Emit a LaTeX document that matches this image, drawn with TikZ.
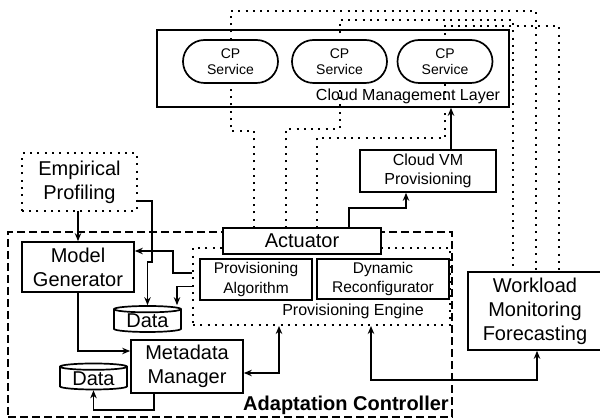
\documentclass[tikz,border=0pt]{standalone}
\usepackage{fontspec}
\setmainfont{Liberation Sans}
\usetikzlibrary{arrows.meta,shapes.misc,shapes.geometric}

\tikzset{
  box/.style={draw, line width=1.7pt, fill=white, align=center, inner sep=0pt},
  bigtext/.style={font=\fontsize{20}{24}\selectfont},
  midtext/.style={font=\fontsize{16}{19}\selectfont},
  smalltext/.style={font=\fontsize{15.5}{19.5}\selectfont},
  dots/.style={line width=2pt, dash pattern=on 2pt off 5.3pt},
  dashes/.style={line width=1.7pt, dash pattern=on 8pt off 4pt},
  arr/.style={line width=1.7pt, -{Stealth[length=8pt,width=6.5pt]}},
  dblarr/.style={line width=1.7pt, {Stealth[length=8pt,width=6.5pt]}-{Stealth[length=8pt,width=6.5pt]}},
  cpservice/.style={draw, line width=1.7pt, fill=white, rounded rectangle,
    minimum width=95pt, minimum height=43pt, inner sep=0pt, align=center,
    font=\fontsize{14}{16}\selectfont},
  datastore/.style={draw, line width=1.7pt, fill=white, cylinder, shape border rotate=90,
    aspect=0.15, minimum width=67pt, minimum height=26pt, inner sep=0pt, bigtext}
}

\begin{document}
\begin{tikzpicture}[x=1pt,y=-1pt]
    \useasboundingbox (0,0) rectangle (600,419);

    % cloud side
    \node [box, fill=none, minimum width=352pt, minimum height=77pt] (cml) at (333,68.5) {};
    \node [midtext] (cmllabel) at (408,96) {Cloud Management Layer};

    % adaptation controller and provisioning engine
    \node [draw, dashes, minimum width=444pt, minimum height=185pt] (ac) at (230,324.5) {};
    \node [font=\bfseries\fontsize{20}{24}\selectfont] (aclabel) at (346,405) {Adaptation Controller};
    \node [draw, dots, minimum width=257pt, minimum height=77pt] (pe) at (321.5,286.5) {};
    \node [midtext] (pelabel) at (353,311) {Provisioning Engine};

    % boxes
    \node [box, draw=none, minimum width=113pt, minimum height=56pt, bigtext] (emp) at (79.5,182) {Empirical\\Profiling};
    \draw [dots] (emp.south west) rectangle (emp.north east);
    \node [box, minimum width=112pt, minimum height=50pt, bigtext] (mg) at (78,267) {Model\\Generator};
    \node [box, minimum width=112pt, minimum height=53pt, bigtext] (mm) at (187,366.5) {Metadata\\Manager};
    \node [box, minimum width=112pt, minimum height=41pt, smalltext] (pa) at (256,279.5) {Provisioning\\Algorithm};
    \node [box, minimum width=132pt, minimum height=40pt, smalltext] (dr) at (383,279) {Dynamic\\Reconfigurator};
    \node [box, minimum width=136pt, minimum height=42pt, midtext] (cvm) at (428,171) {Cloud VM\\Provisioning};
    \node [box, minimum width=134pt, minimum height=78pt, bigtext] (wl) at (535,311) {Workload\\Monitoring\\Forecasting};
    \node [datastore] (data1) at (147.5,321) {Data};
    \node [datastore] (data2) at (93.5,378.5) {Data};

    % dotted links actuator -- services -- workload
    \draw [dots] (254,228) -- (254,131) -| (230.5,61.5) -- (230.5,11) -| ([xshift=1pt]wl.north);
    \draw [dots] (286,228) -- (286,129) -| (339.5,61.5) -- (339.5,20) -| ([xshift=-22pt]wl.north);
    \draw [dots] (317,228) -- (317,138) -| (445,61.5) -- (445,26) -| ([xshift=24pt]wl.north);

    \node [cpservice] (cp1) at (230.5,61.5) {CP\\Service};
    \node [cpservice] (cp2) at (339.5,61.5) {CP\\Service};
    \node [cpservice] (cp3) at (445,61.5) {CP\\Service};

    \node [box, minimum width=158pt, minimum height=26pt, bigtext] (act) at (302,241) {Actuator};

    % solid connectors
    \draw [arr] ([xshift=47pt]act.north) -- ++(0,-19) -| ([xshift=-22pt]cvm.south);
    \draw [arr] ([xshift=23pt]cvm.north) -- ([xshift=23pt]cvm.north |- cml.south);
    \draw [arr] (mg.north |- emp.south) -- (mg.north);
    \draw [arr] ([yshift=-19pt]emp.east) -| (152,262) -| (data1.north);
    \draw [arr] ([yshift=13.5pt]pe.west) -- ++(-19,0) |- ([yshift=16pt]mg.east);
    \draw [arr] (pe.west) -| ([xshift=29.5pt]data1.north);
    \draw [arr] (mg.south) |- ([yshift=15.5pt]mm.west);
    \draw [arr] ([xshift=-33pt]mm.south) -- ++(0,16) -| (data2.south);
    \draw [dblarr] ([yshift=-6.5pt]mm.east) -| ([xshift=-42.5pt]pe.south);
    \draw [dblarr] ([xshift=49.5pt]pe.south) -- ++(0,54) -| ([xshift=2pt]wl.south);
\end{tikzpicture}
\end{document}
